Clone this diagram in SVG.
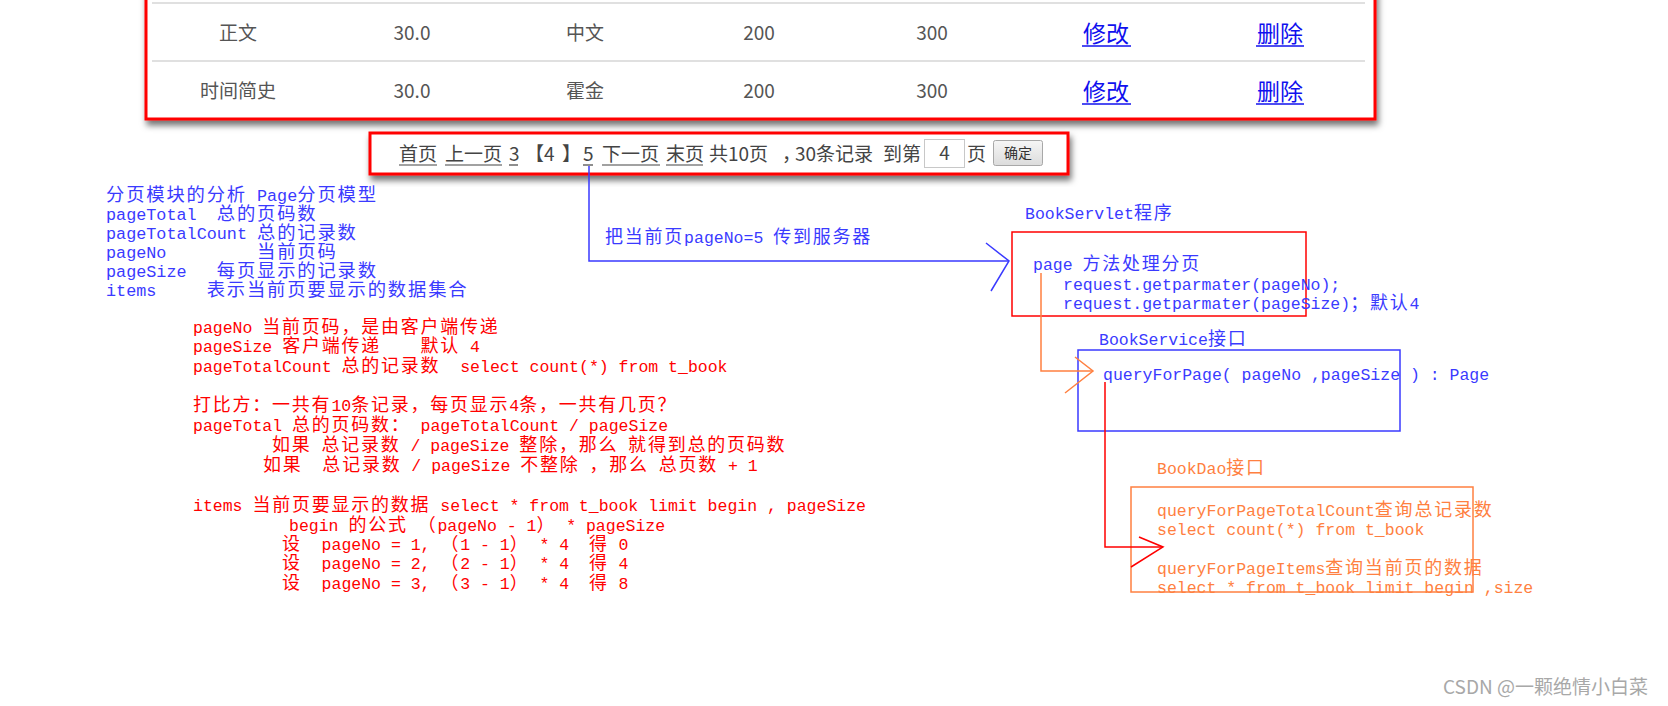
<svg xmlns="http://www.w3.org/2000/svg" width="1668" height="706" viewBox="0 0 1668 706">
<defs>
<filter id="sh" x="-5%" y="-20%" width="110%" height="150%">
<feDropShadow dx="2" dy="5" stdDeviation="3" flood-color="#000" flood-opacity="0.55"/>
</filter>
<linearGradient id="btn" x1="0" y1="0" x2="0" y2="1">
<stop offset="0" stop-color="#f6f6f6"/><stop offset="1" stop-color="#dcdcdc"/>
</linearGradient>
<style>
.t{font-family:"Liberation Mono","Noto Sans CJK SC",monospace;font-size:16.5px;white-space:pre}
.tb{font-size:16.8px}
.c{font-family:"Noto Sans CJK SC",sans-serif;font-size:1.09em;letter-spacing:0.1em}
.b{fill:#3a3aff}
.r{fill:#ff0000}
.o{fill:#ff8040}
.cell{font-family:"Noto Sans CJK SC","Liberation Sans",sans-serif;font-size:19px;fill:#555;text-anchor:middle}
.lnk{font-family:"Noto Sans CJK SC",sans-serif;font-size:23px;fill:#1010ee;text-anchor:middle}
.pg{font-family:"Noto Sans CJK SC","Liberation Sans",sans-serif;font-size:19px;fill:#444;white-space:pre}
.ul{stroke:#444;stroke-width:1.2}
.lu{stroke:#1010ee;stroke-width:1.5}
.sep{stroke:#e0e0e0;stroke-width:2}
.frame{fill:#fff;stroke:#ff0000;stroke-width:3}
.cb{fill:none;stroke:#3a3aff;stroke-width:1.5}
.cr{fill:none;stroke:#ff0000;stroke-width:1.5}
.co{fill:none;stroke:#ff8040;stroke-width:1.5}
</style>
</defs>
<rect width="1668" height="706" fill="#fff"/>

<g id="book-table">
<rect class="frame" x="146" y="-10" width="1229" height="129" filter="url(#sh)"/>
<line class="sep" x1="152" y1="3" x2="1365" y2="3"/>
<line class="sep" x1="152" y1="61" x2="1365" y2="61"/>
<text class="cell" x="238" y="40">正文</text>
<text class="cell" x="412" y="40">30.0</text>
<text class="cell" x="585" y="40">中文</text>
<text class="cell" x="759" y="40">200</text>
<text class="cell" x="932" y="40">300</text>
<text class="lnk" x="1106" y="42">修改</text>
<text class="lnk" x="1280" y="42">删除</text>
<line class="lu" x1="1082" y1="46" x2="1131" y2="46"/>
<line class="lu" x1="1256" y1="46" x2="1304" y2="46"/>
<text class="cell" x="238" y="98">时间简史</text>
<text class="cell" x="412" y="98">30.0</text>
<text class="cell" x="585" y="98">霍金</text>
<text class="cell" x="759" y="98">200</text>
<text class="cell" x="932" y="98">300</text>
<text class="lnk" x="1106" y="100">修改</text>
<text class="lnk" x="1280" y="100">删除</text>
<line class="lu" x1="1082" y1="104" x2="1131" y2="104"/>
<line class="lu" x1="1256" y1="104" x2="1304" y2="104"/>
</g>

<g id="pagination">
<rect class="frame" x="370" y="133" width="698" height="41" filter="url(#sh)"/>
<text class="pg" y="161"><tspan x="399">首页</tspan><tspan x="445">上一页</tspan><tspan x="509">3</tspan><tspan x="525">【</tspan><tspan x="544">4</tspan><tspan x="562">】</tspan><tspan x="583">5</tspan><tspan x="602">下一页</tspan><tspan x="666">末页</tspan><tspan x="709">共10页</tspan><tspan x="782">，</tspan><tspan x="795">30条记录</tspan><tspan x="883">到第</tspan><tspan x="967">页</tspan></text>
<line class="ul" x1="399" y1="165" x2="437" y2="165"/>
<line class="ul" x1="445" y1="165" x2="502" y2="165"/>
<line class="ul" x1="509" y1="165" x2="518" y2="165"/>
<line class="ul" x1="583" y1="165" x2="593" y2="165"/>
<line class="ul" x1="602" y1="165" x2="660" y2="165"/>
<line class="ul" x1="666" y1="165" x2="703" y2="165"/>
<rect x="924.5" y="139.5" width="40" height="28" fill="#fff" stroke="#c8c8c8"/>
<text class="pg" x="944.5" y="160" text-anchor="middle" font-size="17">4</text>
<rect x="993.5" y="140.5" width="49" height="25" rx="2" fill="url(#btn)" stroke="#a8a8a8"/>
<text x="1018" y="158" text-anchor="middle" font-family="Noto Sans CJK SC, sans-serif" font-size="14" fill="#333">确定</text>
</g>

<g id="page-model-notes">
<text class="t tb b" x="106" y="201"><tspan class="c">分页模块的分析</tspan> Page<tspan class="c">分页模型</tspan></text>
<text class="t tb b" x="106" y="220">pageTotal  <tspan class="c">总的页码数</tspan></text>
<text class="t tb b" x="106" y="239">pageTotalCount <tspan class="c">总的记录数</tspan></text>
<text class="t tb b" x="106" y="258">pageNo         <tspan class="c">当前页码</tspan></text>
<text class="t tb b" x="106" y="277">pageSize   <tspan class="c">每页显示的记录数</tspan></text>
<text class="t tb b" x="106" y="296">items     <tspan class="c">表示当前页要显示的数据集合</tspan></text>
</g>

<g id="calc-notes">
<text class="t r" x="193" y="333">pageNo <tspan class="c">当前页码，是由客户端传递</tspan></text>
<text class="t r" x="193" y="352">pageSize <tspan class="c">客户端传递</tspan>    <tspan class="c">默认</tspan> 4</text>
<text class="t r" x="193" y="372">pageTotalCount <tspan class="c">总的记录数</tspan>  select count(*) from t_book</text>
<text class="t r" x="193" y="411"><tspan class="c">打比方：一共有</tspan>10<tspan class="c">条记录，每页显示</tspan>4<tspan class="c">条，一共有几页？</tspan></text>
<text class="t r" x="193" y="431">pageTotal <tspan class="c">总的页码数：</tspan> pageTotalCount / pageSize</text>
<text class="t r" x="272" y="451"><tspan class="c">如果</tspan> <tspan class="c">总记录数</tspan> / pageSize <tspan class="c">整除，那么</tspan> <tspan class="c">就得到总的页码数</tspan></text>
<text class="t r" x="263" y="471"><tspan class="c">如果</tspan>  <tspan class="c">总记录数</tspan> / pageSize <tspan class="c">不整除</tspan> <tspan class="c">，那么</tspan> <tspan class="c">总页数</tspan> + 1</text>
<text class="t r" x="193" y="511">items <tspan class="c">当前页要显示的数据</tspan> select * from t_book limit begin , pageSize</text>
<text class="t r" x="289" y="531">begin <tspan class="c">的公式</tspan> <tspan class="c">（</tspan>pageNo - 1<tspan class="c">）</tspan> * pageSize</text>
<text class="t r" x="282" y="550"><tspan class="c">设</tspan>  pageNo = 1, <tspan class="c">（</tspan>1 - 1<tspan class="c">）</tspan> * 4  <tspan class="c">得</tspan> 0</text>
<text class="t r" x="282" y="569"><tspan class="c">设</tspan>  pageNo = 2, <tspan class="c">（</tspan>2 - 1<tspan class="c">）</tspan> * 4  <tspan class="c">得</tspan> 4</text>
<text class="t r" x="282" y="589"><tspan class="c">设</tspan>  pageNo = 3, <tspan class="c">（</tspan>3 - 1<tspan class="c">）</tspan> * 4  <tspan class="c">得</tspan> 8</text>
</g>

<g id="book-servlet">
<text class="t b" x="1025" y="219">BookServlet<tspan class="c">程序</tspan></text>
<rect class="cr" x="1012" y="232" width="294" height="84"/>
<text class="t b" x="1033" y="270">page <tspan class="c">方法处理分页</tspan></text>
<text class="t b" x="1063" y="290">request.getparmater(pageNo);</text>
<text class="t b" x="1063" y="309">request.getparmater(pageSize)<tspan class="c">；默认</tspan>4</text>
</g>

<g id="book-service">
<text class="t b" x="1099" y="345">BookService<tspan class="c">接口</tspan></text>
<rect class="cb" x="1078" y="350" width="322" height="81"/>
<text class="t b" x="1103" y="380">queryForPage( pageNo ,pageSize ) : Page</text>
</g>

<g id="book-dao">
<text class="t o" x="1157" y="474">BookDao<tspan class="c">接口</tspan></text>
<rect class="co" x="1131" y="487" width="342" height="105"/>
<text class="t o" x="1157" y="516">queryForPageTotalCount<tspan class="c">查询总记录数</tspan></text>
<text class="t o" x="1157" y="535">select count(*) from t_book</text>
<text class="t o" x="1157" y="574">queryForPageItems<tspan class="c">查询当前页的数据</tspan></text>
<text class="t o" x="1157" y="593">select * from t_book limit begin ,size</text>
</g>

<g id="connectors">
<polyline class="cb" points="589,166 589,261 1009,261"/>
<polyline class="cb" points="986,243 1009,261 991,291"/>
<text class="t b" x="605" y="243"><tspan class="c">把当前页</tspan>pageNo=5 <tspan class="c">传到服务器</tspan></text>
<polyline class="co" points="1041,273 1041,371 1093,371"/>
<polyline class="co" points="1075,357 1093,371 1065,393"/>
<polyline class="cr" points="1105,382 1105,547 1163,547"/>
<polyline class="cr" points="1139,537 1163,547 1131,567"/>
</g>

<g id="watermark">
<text x="1443" y="694" font-family="Noto Sans CJK SC, sans-serif" font-size="19" fill="#a8a8a8">CSDN @一颗绝情小白菜</text>
</g>
</svg>
